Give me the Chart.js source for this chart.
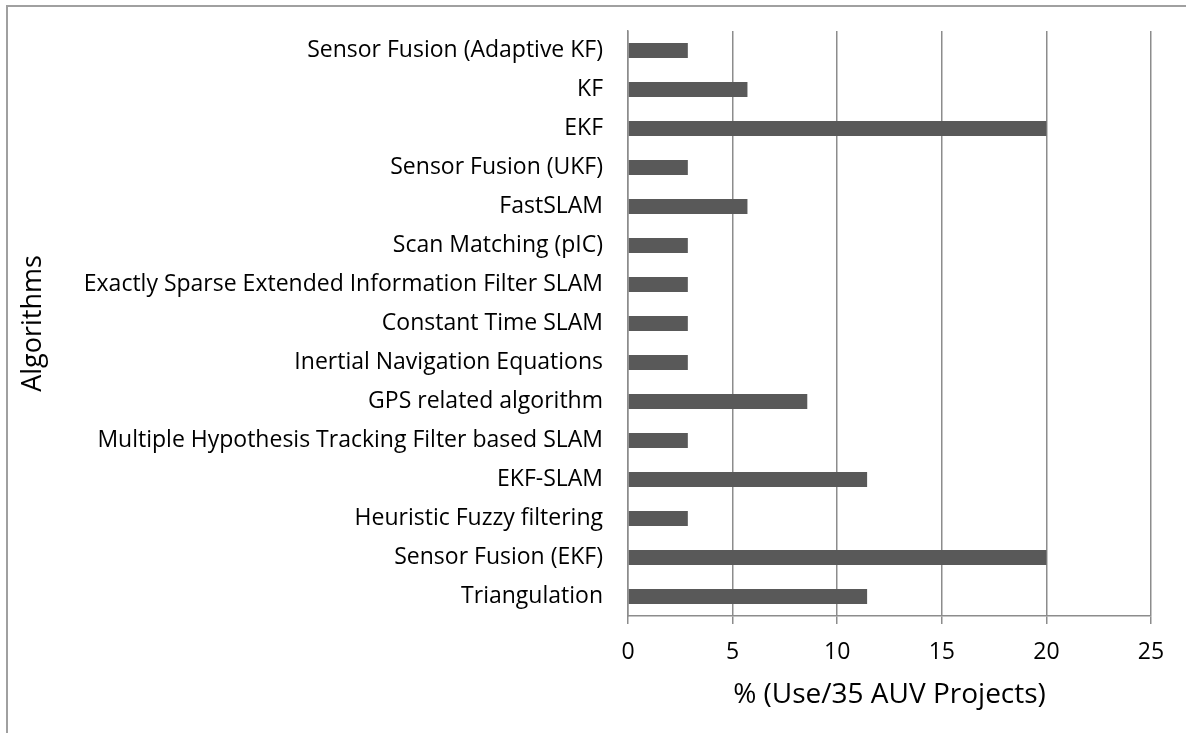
<!DOCTYPE html>
<html>
<head>
<meta charset="utf-8">
<script src="https://cdn.jsdelivr.net/npm/chart.js@4.4.1/dist/chart.umd.min.js"></script>
<style>
  html, body { margin: 0; padding: 0; background: #fff; overflow: hidden; }
  #wrap { position: relative; width: 1186px; height: 733px; }
  #frame {
    position: absolute; left: 6px; top: 5px; width: 1300px; height: 900px;
    border: 2px solid #a0a0a0; box-sizing: border-box;
  }
  canvas { position: absolute; left: 0; top: 0; }
</style>
</head>
<body>
<div id="wrap">
  <div id="frame"></div>
  <canvas id="chart" width="1186" height="733"></canvas>
</div>
<script>
// Algorithms used across 35 AUV projects (top to bottom as drawn)
const algorithms = [
  'Sensor Fusion (Adaptive KF)',
  'KF',
  'EKF',
  'Sensor Fusion (UKF)',
  'FastSLAM',
  'Scan Matching (pIC)',
  'Exactly Sparse Extended Information Filter SLAM',
  'Constant Time SLAM',
  'Inertial Navigation Equations',
  'GPS related algorithm',
  'Multiple Hypothesis Tracking Filter based SLAM',
  'EKF-SLAM',
  'Heuristic Fuzzy filtering',
  'Sensor Fusion (EKF)',
  'Triangulation'
];

// percent of projects (count / 35 * 100)
const usePercent = [2.86, 5.71, 20, 2.86, 5.71, 2.86, 2.86, 2.86, 2.86, 8.57, 2.86, 11.43, 2.86, 20, 11.43];

const xTicks = [0, 5, 10, 15, 20, 25];

const FONT = '"Open Sans", sans-serif';
const gridColor = '#8c8c8c';

const ctx = document.getElementById('chart').getContext('2d');
new Chart(ctx, {
  type: 'bar',
  data: {
    labels: algorithms,
    datasets: [{
      data: usePercent,
      backgroundColor: '#595959',
      borderWidth: 0,
      categoryPercentage: 1,
      barPercentage: 0.385
    }]
  },
  options: {
    indexAxis: 'y',
    responsive: false,
    animation: false,
    layout: { padding: { left: 0, right: 35, top: 31, bottom: 0 } },
    plugins: {
      legend: { display: false },
      tooltip: { enabled: false }
    },
    scales: {
      x: {
        min: 0,
        max: 25,
        afterBuildTicks: (scale) => { scale.ticks = xTicks.map(v => ({ value: v })); },
        afterFit: (scale) => { scale.height = 117; },
        grid: { color: gridColor, lineWidth: 1.5, tickLength: 8, drawTicks: true },
        border: { color: gridColor, width: 1.5 },
        ticks: {
          color: '#000',
          padding: 15,
          font: { family: FONT, size: 23 }
        },
        title: {
          display: true,
          text: '% (Use/35 AUV Projects)',
          color: '#000',
          font: { family: FONT, size: 28 },
          padding: { top: 0, bottom: 21 }
        }
      },
      y: {
        afterFit: (scale) => {
          scale.width = 628;
          scale.paddingTop = 0;
          scale.paddingBottom = 0;
        },
        grid: { display: false, drawTicks: false, tickLength: 0 },
        border: { display: true, color: gridColor, width: 1.5 },
        ticks: {
          color: '#000',
          padding: 25,
          autoSkip: false,
          font: { family: FONT, size: 23 }
        },
        title: {
          display: true,
          text: 'Algorithms',
          color: '#000',
          font: { family: FONT, size: 27 },
          padding: { top: 17, bottom: 0 }
        }
      }
    }
  }
});
</script>
</body>
</html>
